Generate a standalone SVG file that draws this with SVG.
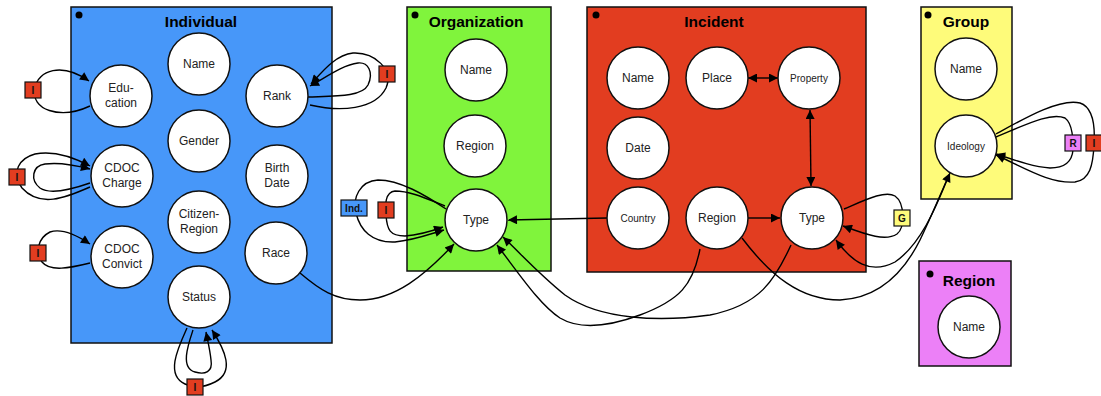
<svg xmlns="http://www.w3.org/2000/svg" width="1101" height="396" viewBox="0 0 1101 396">
<defs>
<marker id="ah" viewBox="0 0 10 10" refX="10" refY="5" markerWidth="11" markerHeight="9" orient="auto-start-reverse" markerUnits="userSpaceOnUse">
<path d="M0,0 L10,5 L0,10 z" fill="#000"/>
</marker>
<style>
.box{stroke:#111;stroke-width:1.5}
.dot{fill:#000}
.title{font-family:"Liberation Sans",Arial,sans-serif;font-size:15.5px;font-weight:bold;fill:#000;text-anchor:middle}
.node{fill:#fff;stroke:#111;stroke-width:1.5}
.lbl{font-family:"Liberation Sans",Arial,sans-serif;font-size:12px;fill:#222;text-anchor:middle}
.sm{font-size:10px}
.tag{stroke:#111;stroke-width:1.2}
.tagt{font-family:"Liberation Sans",Arial,sans-serif;font-size:10px;font-weight:bold;fill:#111;text-anchor:middle}
.e{fill:none;stroke:#000;stroke-width:1.4}
.a{marker-end:url(#ah)}
.b{marker-start:url(#ah);marker-end:url(#ah)}
</style>
</defs>

<g id="Individual">
<rect class="box" x="71" y="7" width="261" height="336" fill="#4797f9"/>
<circle class="dot" cx="79" cy="15" r="3.5"/>
<text class="title" x="201" y="27">Individual</text>
</g>
<g id="Organization">
<rect class="box" x="407" y="7" width="144" height="264" fill="#80f43c"/>
<circle class="dot" cx="415" cy="15" r="3.5"/>
<text class="title" x="476" y="27">Organization</text>
</g>
<g id="Incident">
<rect class="box" x="587" y="7" width="279" height="265" fill="#e23d20"/>
<circle class="dot" cx="596" cy="15" r="3.5"/>
<text class="title" x="714" y="27">Incident</text>
</g>
<g id="Group">
<rect class="box" x="921" y="7" width="91" height="192" fill="#fefb7a"/>
<circle class="dot" cx="928" cy="15" r="3.5"/>
<text class="title" x="966" y="27">Group</text>
</g>
<g id="Region">
<rect class="box" x="919" y="261" width="92" height="105" fill="#ec80f7"/>
<circle class="dot" cx="930" cy="274" r="3.5"/>
<text class="title" x="969" y="286">Region</text>
</g>

<g id="connectors">
<path class="e a" d="M90,106 C60,120 30,110 35,88 C38,70 62,62 89,81"/>
<path class="e a" d="M90,187 C65,198 40,208 22,188 C10,172 20,158 35,154 C55,150 75,158 90,166"/>
<path class="e a" d="M90,183 C70,190 50,195 40,188 C30,180 32,166 45,164 C60,162 75,165 90,169"/>
<path class="e a" d="M90,263 C70,268 50,272 42,262 C35,252 38,238 50,232 C62,228 78,236 90,244"/>
<path class="e a" d="M187,328 C178,348 165,375 185,384 C195,389 205,387 215,382 C235,372 225,350 212,330"/>
<path class="e a" d="M193,330 C188,345 180,368 195,372 C205,375 213,372 211,360 C210,350 208,342 206,332"/>
<path class="e a" d="M310,105 C340,112 375,110 386,88 C394,70 375,52 353,53 C335,55 322,72 311,84"/>
<path class="e a" d="M308,97 C335,96 362,97 368,85 C374,72 368,62 358,63 C342,65 325,78 310,86"/>
<path class="e a" d="M446,209 C425,195 400,180 378,180 C360,181 352,198 356,213 C360,230 372,243 395,242 C415,240 430,234 444,230"/>
<path class="e a" d="M445,206 C425,198 410,191 395,191 C385,192 385,205 386,215 C387,230 390,236 405,236 C420,235 432,231 443,227"/>
<path class="e a" d="M607,218 L508,220"/>
<path class="e a" d="M300,273 C320,290 335,300 360,300 C395,300 425,275 454,244"/>
<path class="e a" d="M700,249 C693,285 680,300 640,315 C610,326 580,330 560,318 C540,305 520,275 497,245"/>
<path class="e a" d="M791,245 C775,280 760,305 710,315 C660,322 600,320 565,295 C540,275 522,255 503,237"/>
<path class="e a" d="M748,218 L780,218"/>
<path class="e b" d="M748,78 L778,78"/>
<path class="e b" d="M810,110 L811,186"/>
<path class="e a" d="M844,209 C865,200 885,190 895,196 C905,203 905,228 897,234 C885,242 865,234 843,226"/>
<path class="e a" d="M949,175 C935,210 920,245 895,262 C870,275 852,262 836,240"/>
<path class="e a" d="M742,238 C770,275 800,300 840,300 C880,298 905,270 920,240 C932,215 940,195 950,173"/>
<path class="e a" d="M996,134 C1025,118 1060,98 1080,103 C1095,108 1095,130 1094,145 C1093,165 1090,180 1075,182 C1050,184 1025,168 996,155"/>
<path class="e a" d="M996,137 C1025,125 1050,112 1065,118 C1073,124 1073,140 1073,150 C1072,162 1065,168 1050,168 C1035,167 1020,162 996,154"/>
</g>

<g id="tags">
<g id="tag-edu"><rect class="tag" x="25" y="82" width="16" height="16" fill="#e23d20"/><text class="tagt" x="33" y="94">I</text></g>
<g id="tag-charge"><rect class="tag" x="9" y="169" width="16" height="16" fill="#e23d20"/><text class="tagt" x="17" y="181">I</text></g>
<g id="tag-convict"><rect class="tag" x="30" y="245" width="16" height="16" fill="#e23d20"/><text class="tagt" x="38" y="257">I</text></g>
<g id="tag-status"><rect class="tag" x="187" y="379" width="16" height="16" fill="#e23d20"/><text class="tagt" x="195" y="391">I</text></g>
<g id="tag-rank"><rect class="tag" x="379" y="66" width="16" height="16" fill="#e23d20"/><text class="tagt" x="387" y="78">I</text></g>
<g id="tag-ind"><rect class="tag" x="341" y="200" width="26" height="16" fill="#4797f9"/><text class="tagt" x="354" y="212">Ind.</text></g>
<g id="tag-orgtype"><rect class="tag" x="378" y="202" width="16" height="16" fill="#e23d20"/><text class="tagt" x="386" y="214">I</text></g>
<g id="tag-g"><rect class="tag" x="894" y="210" width="16" height="16" fill="#fefb7a"/><text class="tagt" x="902" y="222">G</text></g>
<g id="tag-r"><rect class="tag" x="1065" y="135" width="16" height="16" fill="#ec80f7"/><text class="tagt" x="1073" y="147">R</text></g>
<g id="tag-ideo"><rect class="tag" x="1086" y="135" width="16" height="16" fill="#e23d20"/><text class="tagt" x="1094" y="147">I</text></g>
</g>

<g id="ind-name"><circle class="node" cx="199" cy="64" r="31"/><text class="lbl" x="199" y="68">Name</text></g>
<g id="ind-education"><circle class="node" cx="121" cy="96" r="31"/><text class="lbl" x="121" y="92">Edu-</text><text class="lbl" x="121" y="107">cation</text></g>
<g id="ind-rank"><circle class="node" cx="277" cy="96" r="31"/><text class="lbl" x="277" y="100">Rank</text></g>
<g id="ind-gender"><circle class="node" cx="199" cy="141" r="31"/><text class="lbl" x="199" y="145">Gender</text></g>
<g id="ind-charge"><circle class="node" cx="122" cy="176" r="31"/><text class="lbl" x="122" y="172">CDOC</text><text class="lbl" x="122" y="187">Charge</text></g>
<g id="ind-birth"><circle class="node" cx="277" cy="176" r="31"/><text class="lbl" x="277" y="172">Birth</text><text class="lbl" x="277" y="187">Date</text></g>
<g id="ind-citizen"><circle class="node" cx="199" cy="222" r="31"/><text class="lbl" x="199" y="218">Citizen-</text><text class="lbl" x="199" y="233">Region</text></g>
<g id="ind-convict"><circle class="node" cx="122" cy="257" r="31"/><text class="lbl" x="122" y="253">CDOC</text><text class="lbl" x="122" y="268">Convict</text></g>
<g id="ind-race"><circle class="node" cx="276" cy="253" r="31"/><text class="lbl" x="276" y="257">Race</text></g>
<g id="ind-status"><circle class="node" cx="199" cy="297" r="31"/><text class="lbl" x="199" y="301">Status</text></g>

<g id="org-name"><circle class="node" cx="476" cy="70" r="31"/><text class="lbl" x="476" y="74">Name</text></g>
<g id="org-region"><circle class="node" cx="475" cy="146" r="31"/><text class="lbl" x="475" y="150">Region</text></g>
<g id="org-type"><circle class="node" cx="476" cy="220" r="31"/><text class="lbl" x="476" y="224">Type</text></g>

<g id="inc-name"><circle class="node" cx="638" cy="78" r="31"/><text class="lbl" x="638" y="82">Name</text></g>
<g id="inc-place"><circle class="node" cx="717" cy="78" r="31"/><text class="lbl" x="717" y="82">Place</text></g>
<g id="inc-property"><circle class="node" cx="809" cy="78" r="31"/><text class="lbl sm" x="809" y="82">Property</text></g>
<g id="inc-date"><circle class="node" cx="638" cy="148" r="31"/><text class="lbl" x="638" y="152">Date</text></g>
<g id="inc-country"><circle class="node" cx="638" cy="218" r="31"/><text class="lbl sm" x="638" y="222">Country</text></g>
<g id="inc-region"><circle class="node" cx="717" cy="218" r="31"/><text class="lbl" x="717" y="222">Region</text></g>
<g id="inc-type"><circle class="node" cx="812" cy="218" r="31"/><text class="lbl" x="812" y="222">Type</text></g>

<g id="grp-name"><circle class="node" cx="966" cy="69" r="31"/><text class="lbl" x="966" y="73">Name</text></g>
<g id="grp-ideology"><circle class="node" cx="966" cy="146" r="31"/><text class="lbl sm" x="966" y="150">Ideology</text></g>

<g id="reg-name"><circle class="node" cx="969" cy="327" r="31"/><text class="lbl" x="969" y="331">Name</text></g>
</svg>
